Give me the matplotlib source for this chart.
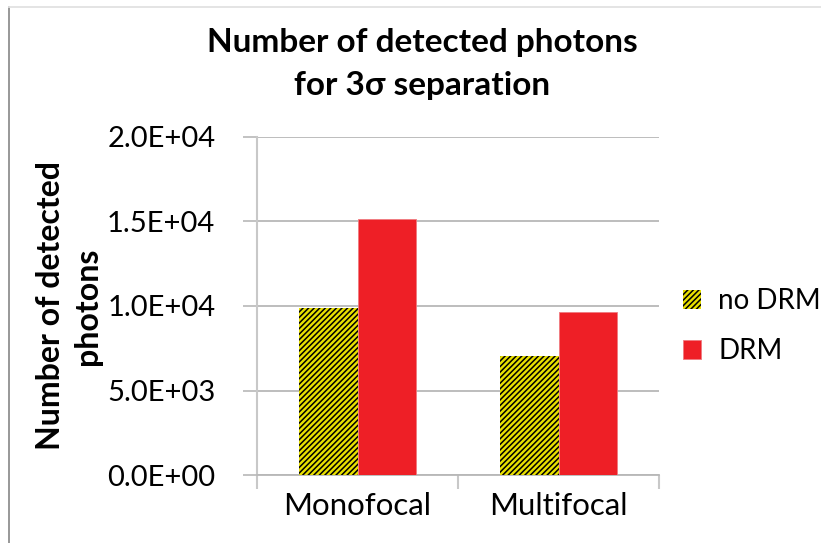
import matplotlib
matplotlib.use("Agg")
import matplotlib.pyplot as plt
from matplotlib.lines import Line2D
import numpy as np

# photon counts needed for 3-sigma separation
categories = ["Monofocal", "Multifocal"]
no_drm = [9880, 7060]
drm = [15150, 9660]
series_labels = ["no DRM", "DRM"]

plt.rcParams['font.family'] = ['Lato', 'DejaVu Sans']
plt.rcParams['hatch.linewidth'] = 1.1
plt.rcParams['hatch.color'] = 'black'

fig = plt.figure(figsize=(8.21, 5.43), dpi=100)
ax = fig.add_axes([0.313, 0.1247, 0.49, 0.6237])

x = np.arange(len(categories))
w = 0.29
ax.bar(x - w / 2, no_drm, w, color='#e8e000', hatch='//////', edgecolor='black',
       linewidth=0, label=series_labels[0], zorder=3)
ax.bar(x + w / 2, drm, w, color='#ee1f26', edgecolor='#f07a80', linewidth=0.6,
       label=series_labels[1], zorder=3)

ax.set_xlim(-0.5, 1.5)
ax.set_ylim(0, 20000)
yticks = [0, 5000, 10000, 15000, 20000]
ax.set_yticks(yticks)
ax.set_yticklabels([f"{v:.1E}" for v in yticks], fontsize=21)
ax.set_xticks(x)
ax.set_xticklabels(categories, fontsize=22.5)
ax.tick_params(axis='x', length=0, pad=12)
ax.tick_params(axis='y', length=10, color='#b8b8b8', width=1.2, pad=20)

# category boundary ticks along the base
ax.set_xticks([-0.5, 0.5, 1.5], minor=True)
ax.tick_params(axis='x', which='minor', length=10, color='#c8c8c8', width=1.5)

ax.grid(axis='y', color='#b8b8b8', linewidth=1.3, zorder=0)
ax.set_axisbelow(True)
for side in ['top', 'right']:
    ax.spines[side].set_visible(False)
ax.spines['left'].set_color('#c8c8c8')
ax.spines['left'].set_linewidth(1.5)
ax.spines['bottom'].set_color('#b8b8b8')
ax.spines['bottom'].set_linewidth(1.3)

ax.set_ylabel("Number of detected\nphotons", fontsize=23, fontweight='bold',
              linespacing=1.35)
ax.yaxis.set_label_coords(-0.385, 0.5)

fig.text(0.514, 0.922, "Number of detected photons", ha='center', va='center',
         fontsize=24, fontweight='bold')
fig.text(0.514, 0.842, "for 3σ separation", ha='center', va='center',
         fontsize=24, fontweight='bold')

leg = ax.legend(loc='center left', bbox_to_anchor=(1.06, 0.44), frameon=False,
                fontsize=20, handlelength=0.65, handleheight=0.65,
                handletextpad=0.6, labelspacing=0.85, borderaxespad=0,
                borderpad=0)

# outer chart frame
fig.add_artist(Line2D([0.011, 0.011], [0, 0.987], transform=fig.transFigure,
                      color='#909090', linewidth=1.3))
fig.add_artist(Line2D([0.011, 1.0], [0.987, 0.987], transform=fig.transFigure,
                      color='#e2e2e2', linewidth=1.3))

fig.savefig("out.png", dpi=100)
